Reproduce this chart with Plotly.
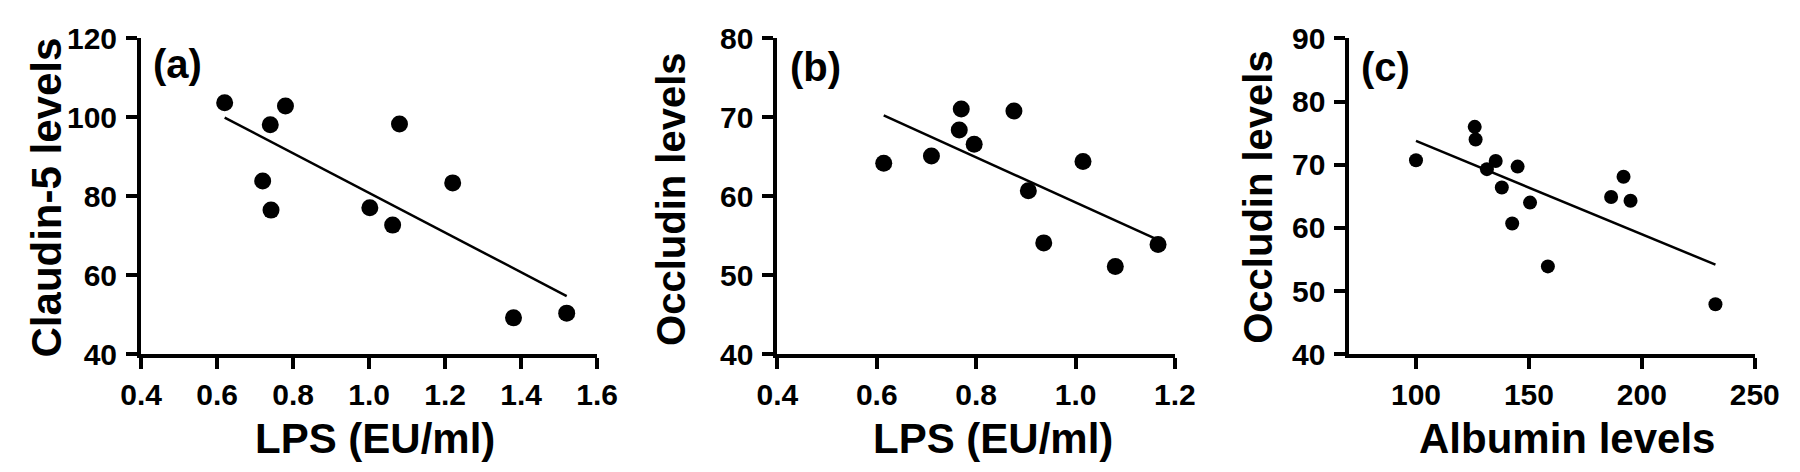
import numpy as np
import plotly.graph_objects as go

# panel (a): LPS vs Claudin-5
lps_a = [0.62, 0.78, 0.74, 1.08, 0.72, 0.742, 1.22, 1.002, 1.062, 1.38, 1.52]
claudin_a = [103.7, 102.9, 98.1, 98.3, 83.9, 76.5, 83.4, 77.1, 72.7, 49.2, 50.4]

# panel (b): LPS vs Occludin
lps_b = [0.614, 0.71, 0.77, 0.766, 0.796, 0.876, 1.015, 0.905, 0.936, 1.08, 1.166]
occludin_b = [64.2, 65.1, 71.05, 68.4, 66.6, 70.8, 64.4, 60.7, 54.1, 51.1, 53.9]

# panel (c): Albumin vs Occludin
albumin_c = [100, 126, 126.4, 135.3, 131.4, 145, 138, 150.5, 142.6, 158.4, 186.4, 191.9, 195, 232.6]
occludin_c = [70.7, 76.0, 74.0, 70.6, 69.3, 69.7, 66.4, 64.0, 60.7, 53.9, 64.9, 68.1, 64.3, 47.9]

xticks_a = [0.4, 0.6, 0.8, 1.0, 1.2, 1.4, 1.6]
yticks_a = [40, 60, 80, 100, 120]
xticks_b = [0.4, 0.6, 0.8, 1.0, 1.2]
yticks_b = [40, 50, 60, 70, 80]
xticks_c = [100, 150, 200, 250]
yticks_c = [40, 50, 60, 70, 80, 90]

W, H = 1800, 472
FONT = "Liberation Sans, Arial, sans-serif"


def fit_line(x, y):
    k, b = np.polyfit(x, y, 1)
    xs = np.array([min(x), max(x)])
    return xs, k * xs + b


fig = go.Figure()

panels = [
    (lps_a, claudin_a, "x", "y", 17),
    (lps_b, occludin_b, "x2", "y2", 17),
    (albumin_c, occludin_c, "x3", "y3", 14),
]
for xs, ys, xa, ya, msize in panels:
    lx, ly = fit_line(xs, ys)
    fig.add_trace(go.Scatter(x=lx, y=ly, mode="lines", xaxis=xa, yaxis=ya,
                             line=dict(color="black", width=2.5), showlegend=False))
    fig.add_trace(go.Scatter(x=xs, y=ys, mode="markers", xaxis=xa, yaxis=ya,
                             marker=dict(color="black", size=msize), showlegend=False))

ydom = [1 - 355 / H, 1 - 15.5 / H]


def ax(domain, rng, ticks, anchor, standoff, fmt=None):
    d = dict(domain=domain, range=rng, tickvals=ticks, anchor=anchor,
             showline=True, linewidth=4, linecolor="black",
             ticks="outside", ticklen=11, tickwidth=4, tickcolor="black",
             showgrid=False, zeroline=False, ticklabeloverflow="allow",
             ticklabelstandoff=standoff,
             tickfont=dict(family=FONT, size=30, color="black", weight="bold"))
    if fmt:
        d["tickformat"] = fmt
    return d


eps = 1e-6
fig.update_layout(
    width=W, height=H,
    margin=dict(l=0, r=0, t=0, b=0),
    paper_bgcolor="white", plot_bgcolor="white",
    xaxis=ax([115 / W, 583 / W], [0.4 - eps, 1.6 + eps], xticks_a, "y", 0, ".1f"),
    yaxis=ax(ydom, [40 - 1e-4, 120 + 1e-4], yticks_a, "x", 3),
    xaxis2=ax([768 / W, 1176 / W], [0.4 - eps, 1.2 + eps], xticks_b, "y2", 0, ".1f"),
    yaxis2=ax(ydom, [40 - 1e-4, 80 + 1e-4], yticks_b, "x2", 3),
    xaxis3=ax([1355 / W, 1771 / W], [70.5, 250 + 1e-4], xticks_c, "y3", 0),
    yaxis3=ax(ydom, [40 - 1e-4, 90 + 1e-4], yticks_c, "x3", 3),
)

# axis titles and panel letters
ann = [
    ("LPS (EU/ml)", 355, 446, 0, 42),
    ("LPS (EU/ml)", 989, 446, 0, 42),
    ("Albumin levels", 1578, 446, 0, 42),
    ("Claudin-5 levels", 18, 187, -90, 42),
    ("Occludin levels", 659, 189, -90, 40),
    ("Occludin levels", 1261, 186, -90, 40),
    ("(a)", 152, 43, 0, 40),
    ("(b)", 807, 46, 0, 40),
    ("(c)", 1392, 46, 0, 40),
]
for text, px_, py_, ang, size in ann:
    fig.add_annotation(text=text, x=px_ / W, y=1 - py_ / H, xref="paper", yref="paper",
                       xanchor="center", yanchor="middle", textangle=ang, showarrow=False,
                       font=dict(family=FONT, size=size, color="black", weight="bold"))

fig.write_html("out.html")
